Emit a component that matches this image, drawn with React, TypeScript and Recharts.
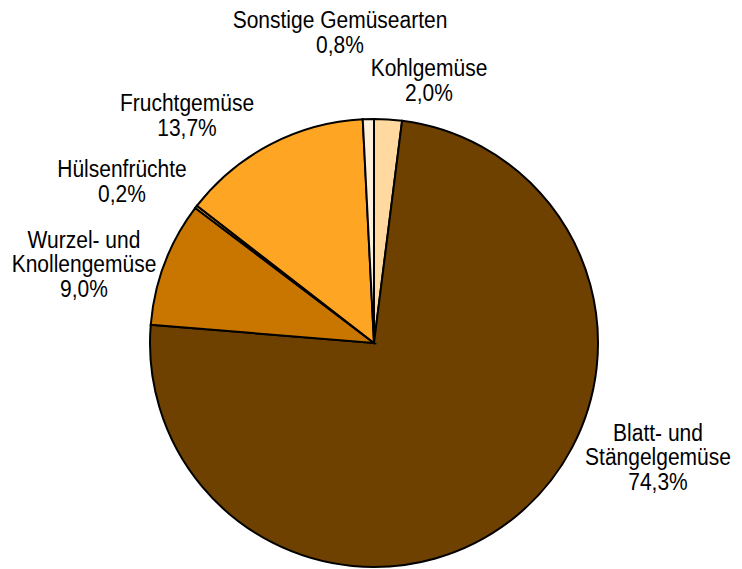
import React from "react";
import { PieChart, Pie, Cell } from "recharts";

const categories = [
  "Kohlgemüse",
  "Blatt- und Stängelgemüse",
  "Wurzel- und Knollengemüse",
  "Hülsenfrüchte",
  "Fruchtgemüse",
  "Sonstige Gemüsearten",
];
const shares = [2.0, 74.3, 9.0, 0.2, 13.7, 0.8];
const labelLines = [
  ["Kohlgemüse", "2,0%"],
  ["Blatt- und", "Stängelgemüse", "74,3%"],
  ["Wurzel- und", "Knollengemüse", "9,0%"],
  ["Hülsenfrüchte", "0,2%"],
  ["Fruchtgemüse", "13,7%"],
  ["Sonstige Gemüsearten", "0,8%"],
];

const colors = ["#FFD9A0", "#6E4100", "#C87600", "#F0A030", "#FFA524", "#FFF0DC"];
// label block centers (layout only)
const labelPos: [number, number][] = [
  [429, 80],
  [658, 457],
  [84, 264],
  [122, 181],
  [187, 115],
  [340, 32],
];

const data = categories.map((name, i) => ({ name, value: shares[i] }));

const renderLabel = (props: any) => {
  const i = props.index;
  const lines = labelLines[i];
  const [x, y] = labelPos[i];
  const lh = 24.5 / 1.1;
  const top = -((lines.length - 1) * lh) / 2;
  return (
    <g key={`l${i}`} transform={`translate(${x},${y}) scale(1,1.1)`}>
      <text
        x={0}
        y={top}
        textAnchor="middle"
        dominantBaseline="central"
        fontFamily="'Liberation Sans', Arial, sans-serif"
        fontSize={21}
        fill="#000"
      >
        {lines.map((t, k) => (
          <tspan key={k} x={0} y={top + k * lh}>
            {t}
          </tspan>
        ))}
      </text>
    </g>
  );
};

export default function App() {
  return (
    <div style={{ position: "absolute", left: 0, top: 0, width: 742, height: 569, background: "#fff" }}>
      <PieChart width={742} height={569} margin={{ top: 0, right: 0, bottom: 0, left: 0 }}>
        <Pie
          data={data}
          dataKey="value"
          nameKey="name"
          cx={374}
          cy={343}
          outerRadius={224}
          startAngle={90}
          endAngle={-270}
          stroke="#000"
          strokeWidth={2}
          label={renderLabel}
          labelLine={false}
          isAnimationActive={false}
        >
          {data.map((d, i) => (
            <Cell key={d.name} fill={colors[i]} stroke="#000" strokeWidth={2} />
          ))}
        </Pie>
      </PieChart>
    </div>
  );
}
